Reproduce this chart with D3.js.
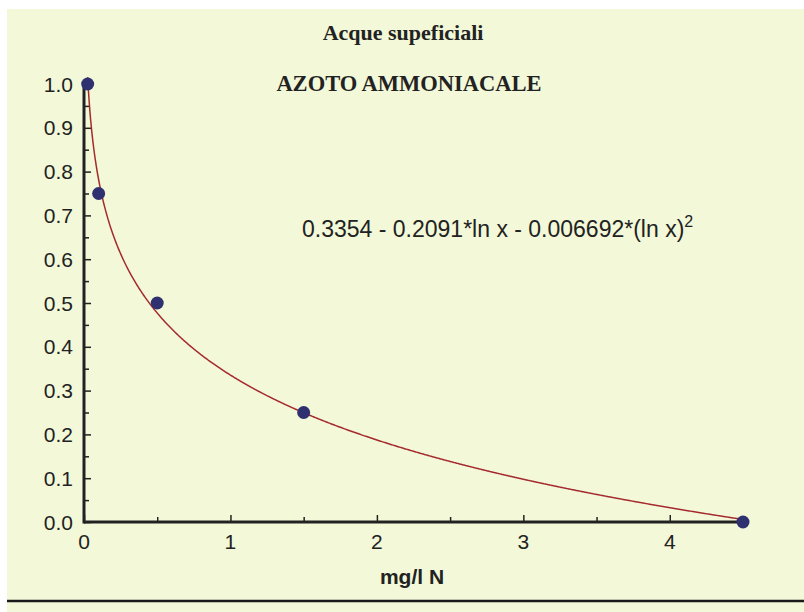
<!DOCTYPE html>
<html>
<head>
<meta charset="utf-8">
<script src="https://cdn.jsdelivr.net/npm/d3@7"></script>
<style>
  body { margin: 0; background: #ffffff; }
  svg { display: block; }
</style>
</head>
<body>
<div id="chart"></div>
<script>
var width = 804;
var height = 612;

// dati
var xValues = [0.025, 0.1, 0.5, 1.5, 4.5];
var yValues = [1.0, 0.75, 0.5, 0.25, 0.0];
// coefficienti del fit: a + b*ln x + c*(ln x)^2
var fitCoeffs = [0.3354, -0.2091, -0.006692];
var xTicks = [0, 1, 2, 3, 4];
var yTicks = [0.0, 0.1, 0.2, 0.3, 0.4, 0.5, 0.6, 0.7, 0.8, 0.9, 1.0];
var titles = ["Acque supeficiali", "AZOTO AMMONIACALE"];
var xLabel = "mg/l N";

var svg = d3
  .select("#chart")
  .append("svg")
  .attr("width", width)
  .attr("height", height);

svg.append("rect")
  .attr("x", 7)
  .attr("y", 9)
  .attr("width", width - 7)
  .attr("height", height - 9)
  .attr("fill", "#f2f8d8");

svg.append("line")
  .attr("x1", 7)
  .attr("x2", width)
  .attr("y1", 601)
  .attr("y2", 601)
  .attr("stroke", "#1a1a1a")
  .attr("stroke-width", 2.5);

var scaleX = d3.scaleLinear().domain([0, 4.5]).range([84, 743]);
var scaleY = d3.scaleLinear().domain([0, 1]).range([522, 84]);

// titoli
svg.append("text")
  .attr("x", 403)
  .attr("y", 40)
  .attr("text-anchor", "middle")
  .attr("font-family", "'Liberation Serif', 'Times New Roman', serif")
  .attr("font-weight", "bold")
  .attr("font-size", "22px")
  .attr("fill", "#222")
  .text(titles[0]);

svg.append("text")
  .attr("x", 409)
  .attr("y", 91)
  .attr("text-anchor", "middle")
  .attr("font-family", "'Liberation Serif', 'Times New Roman', serif")
  .attr("font-weight", "bold")
  .attr("font-size", "22.5px")
  .attr("fill", "#222")
  .text(titles[1]);

// assi
var axisX = d3.axisBottom(scaleX)
  .tickValues(d3.range(0, 4.51, 0.5))
  .tickSize(0)
  .tickFormat("");

var gx = svg.append("g").attr("transform", "translate(0,522)").call(axisX);
gx.select(".domain").remove();
gx.selectAll(".tick line")
  .attr("y2", function (d) { return Number.isInteger(d) ? -7 : -5; })
  .attr("stroke", "#222")
  .attr("stroke-width", 1.5);

var gy = svg.append("g").attr("transform", "translate(84,0)")
  .call(d3.axisLeft(scaleY).tickValues(d3.range(0, 1.001, 0.05)).tickSize(0).tickFormat(""));
gy.select(".domain").remove();
gy.selectAll(".tick line")
  .attr("x2", function (d, i) { return i % 2 === 0 ? 7 : 5; })
  .attr("stroke", "#222")
  .attr("stroke-width", 1.5);

svg.append("line")
  .attr("x1", scaleX(0)).attr("x2", scaleX(4.5))
  .attr("y1", scaleY(0)).attr("y2", scaleY(0))
  .attr("stroke", "#222").attr("stroke-width", 3);
svg.append("line")
  .attr("x1", scaleX(0)).attr("x2", scaleX(0))
  .attr("y1", scaleY(0) + 1.5).attr("y2", scaleY(1))
  .attr("stroke", "#222").attr("stroke-width", 3);

svg.selectAll(".xlab")
  .data(xTicks)
  .enter()
  .append("text")
  .attr("class", "xlab")
  .attr("x", function (d) { return scaleX(d); })
  .attr("y", 549)
  .attr("text-anchor", "middle")
  .attr("font-family", "'Liberation Sans', Arial, sans-serif")
  .attr("font-size", "21px")
  .attr("fill", "#222")
  .text(function (d) { return d; });

svg.selectAll(".ylab")
  .data(yTicks)
  .enter()
  .append("text")
  .attr("class", "ylab")
  .attr("x", 73)
  .attr("y", function (d) { return scaleY(d); })
  .attr("dy", "0.36em")
  .attr("text-anchor", "end")
  .attr("font-family", "'Liberation Sans', Arial, sans-serif")
  .attr("font-size", "21px")
  .attr("fill", "#222")
  .text(function (d) { return d.toFixed(1); });

svg.append("text")
  .attr("x", 412)
  .attr("y", 584)
  .attr("text-anchor", "middle")
  .attr("font-family", "'Liberation Sans', Arial, sans-serif")
  .attr("font-weight", "bold")
  .attr("font-size", "21px")
  .attr("fill", "#222")
  .text(xLabel);

// curva di fit
var xs = d3.range(xValues[0], 4.5 + 1e-9, 0.005);
var line = d3.line()
  .x(function (d) { return scaleX(d); })
  .y(function (d) {
    var l = Math.log(d);
    return scaleY(fitCoeffs[0] + fitCoeffs[1] * l + fitCoeffs[2] * l * l);
  });

svg.append("path")
  .datum(xs)
  .attr("d", line)
  .attr("fill", "none")
  .attr("stroke", "#a52a2e")
  .attr("stroke-width", 1.5);

svg.selectAll("circle")
  .data(xValues)
  .enter()
  .append("circle")
  .attr("cx", function (d) { return scaleX(d); })
  .attr("cy", function (d, i) { return scaleY(yValues[i]); })
  .attr("r", 6.5)
  .attr("fill", "#2e3070");

// equazione
var eq = svg.append("text")
  .attr("x", 302)
  .attr("y", 237)
  .attr("font-family", "'Liberation Sans', Arial, sans-serif")
  .attr("font-size", "23px")
  .attr("fill", "#222");
eq.append("tspan").text("0.3354 - 0.2091*ln x - 0.006692*(ln x)");
eq.append("tspan").attr("dy", -10).attr("font-size", "16px").text("2");
</script>
</body>
</html>
